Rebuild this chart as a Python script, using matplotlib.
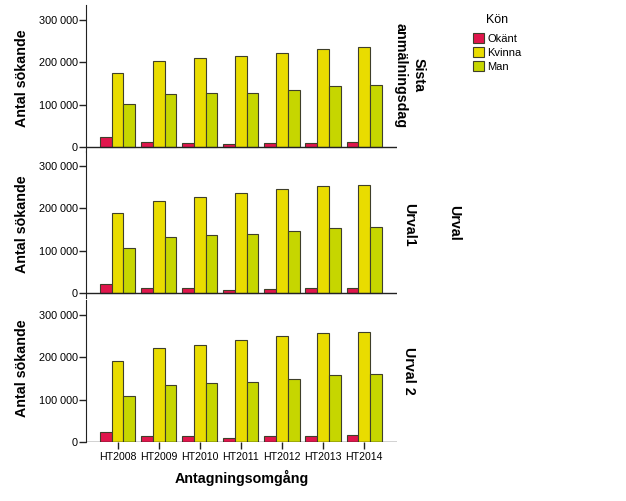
import matplotlib.pyplot as plt
import matplotlib.ticker as mticker
import numpy as np
from matplotlib.patches import Patch

plt.rcParams['font.family'] = ['Liberation Sans', 'DejaVu Sans']

years = ['HT2008', 'HT2009', 'HT2010', 'HT2011', 'HT2012', 'HT2013', 'HT2014']
genders = ['Okänt', 'Kvinna', 'Man']
colors = ['#e0164c', '#e9dc00', '#c6d600']
panels = ['Sista\nanmälningsdag', 'Urval1', 'Urval 2']

# Sista anmälningsdag
sista_okant = [24000, 11000, 10000, 8000, 9000, 10000, 12000]
sista_kvinna = [175000, 203000, 210000, 215000, 221000, 232000, 236000]
sista_man = [100500, 124000, 128000, 128000, 133500, 143000, 146000]

# Urval1
urval1_okant = [22000, 12500, 12500, 8000, 10000, 12500, 12500]
urval1_kvinna = [188000, 218000, 227000, 237000, 245000, 253000, 254000]
urval1_man = [106500, 132000, 137000, 139000, 145000, 154000, 156000]

# Urval 2
urval2_okant = [24000, 15000, 14000, 10000, 13000, 15000, 15500]
urval2_kvinna = [191000, 222000, 230000, 240000, 249000, 257000, 258500]
urval2_man = [109000, 135000, 139000, 142500, 149000, 157000, 160500]

data = [
    [sista_okant, sista_kvinna, sista_man],
    [urval1_okant, urval1_kvinna, urval1_man],
    [urval2_okant, urval2_kvinna, urval2_man],
]

W, H = 626, 501
fig = plt.figure(figsize=(W / 100, H / 100), dpi=100)

# pixel boxes (top, bottom) for each panel
boxes = [(5, 152), (151, 298), (300, 442)]
ylims = [(-12000, 335000), (-12000, 335000), (0, 335000)]
left, right = 86, 397

x = np.arange(len(years))
bw = 0.285
edge = '#3f3f2a'

fmt = mticker.FuncFormatter(lambda v, p: '0' if v == 0 else f'{int(v):,}'.replace(',', ' '))

for i, (top, bot) in enumerate(boxes):
    ax = fig.add_axes([left / W, 1 - bot / H, (right - left) / W, (bot - top) / H])
    for j, vals in enumerate(data[i]):
        ax.bar(x + (j - 1) * bw, vals, bw, color=colors[j], edgecolor=edge, linewidth=0.8, zorder=3)
    ax.axhline(0, color='#222222', linewidth=1, zorder=4)
    ax.set_xlim(-0.77, 6.8)
    ax.set_ylim(*ylims[i])
    ax.set_yticks([0, 100000, 200000, 300000])
    ax.yaxis.set_major_formatter(fmt)
    for s in ['top', 'right', 'bottom']:
        ax.spines[s].set_visible(False)
    ax.spines['left'].set_color('#222222')
    ax.tick_params(axis='y', labelsize=7.8, length=5, width=1, color='#222222', pad=1)
    ax.set_ylabel('Antal sökande', fontsize=10.3, fontweight='bold')
    ax.yaxis.set_label_coords(-0.183, 0.5 if i < 2 else 0.52)
    ax.text(1.04, 0.5 if i > 0 else 0.52, panels[i], transform=ax.transAxes, rotation=-90,
            ha='center', va='center', fontsize=10.3, fontweight='bold', linespacing=1.3)
    if i < 2:
        ax.set_xticks([])
    else:
        ax.set_xticks(x)
        ax.set_xticklabels(years, fontsize=7.6)
        ax.tick_params(axis='x', length=5, width=1, color='#222222', pad=2)
        ax.set_xlabel('Antagningsomgång', fontsize=10.3, fontweight='bold', labelpad=6)

fig.text(454 / W, 1 - 223 / H, 'Urval', rotation=-90, ha='center', va='center',
         fontsize=10.3, fontweight='bold')

handles = [Patch(facecolor=c, edgecolor=edge, linewidth=0.8) for c in colors]
leg = fig.legend(handles, genders, title='Kön', loc='upper left',
                 bbox_to_anchor=(463 / W, 1 - 4 / H), frameon=False, fontsize=8,
                 title_fontsize=9, handlelength=1.0, handleheight=1.0,
                 handletextpad=0.3, labelspacing=0.3)
leg._legend_box.align = 'center'
leg._legend_box.sep = 5

fig.savefig('out.png', dpi=100)
